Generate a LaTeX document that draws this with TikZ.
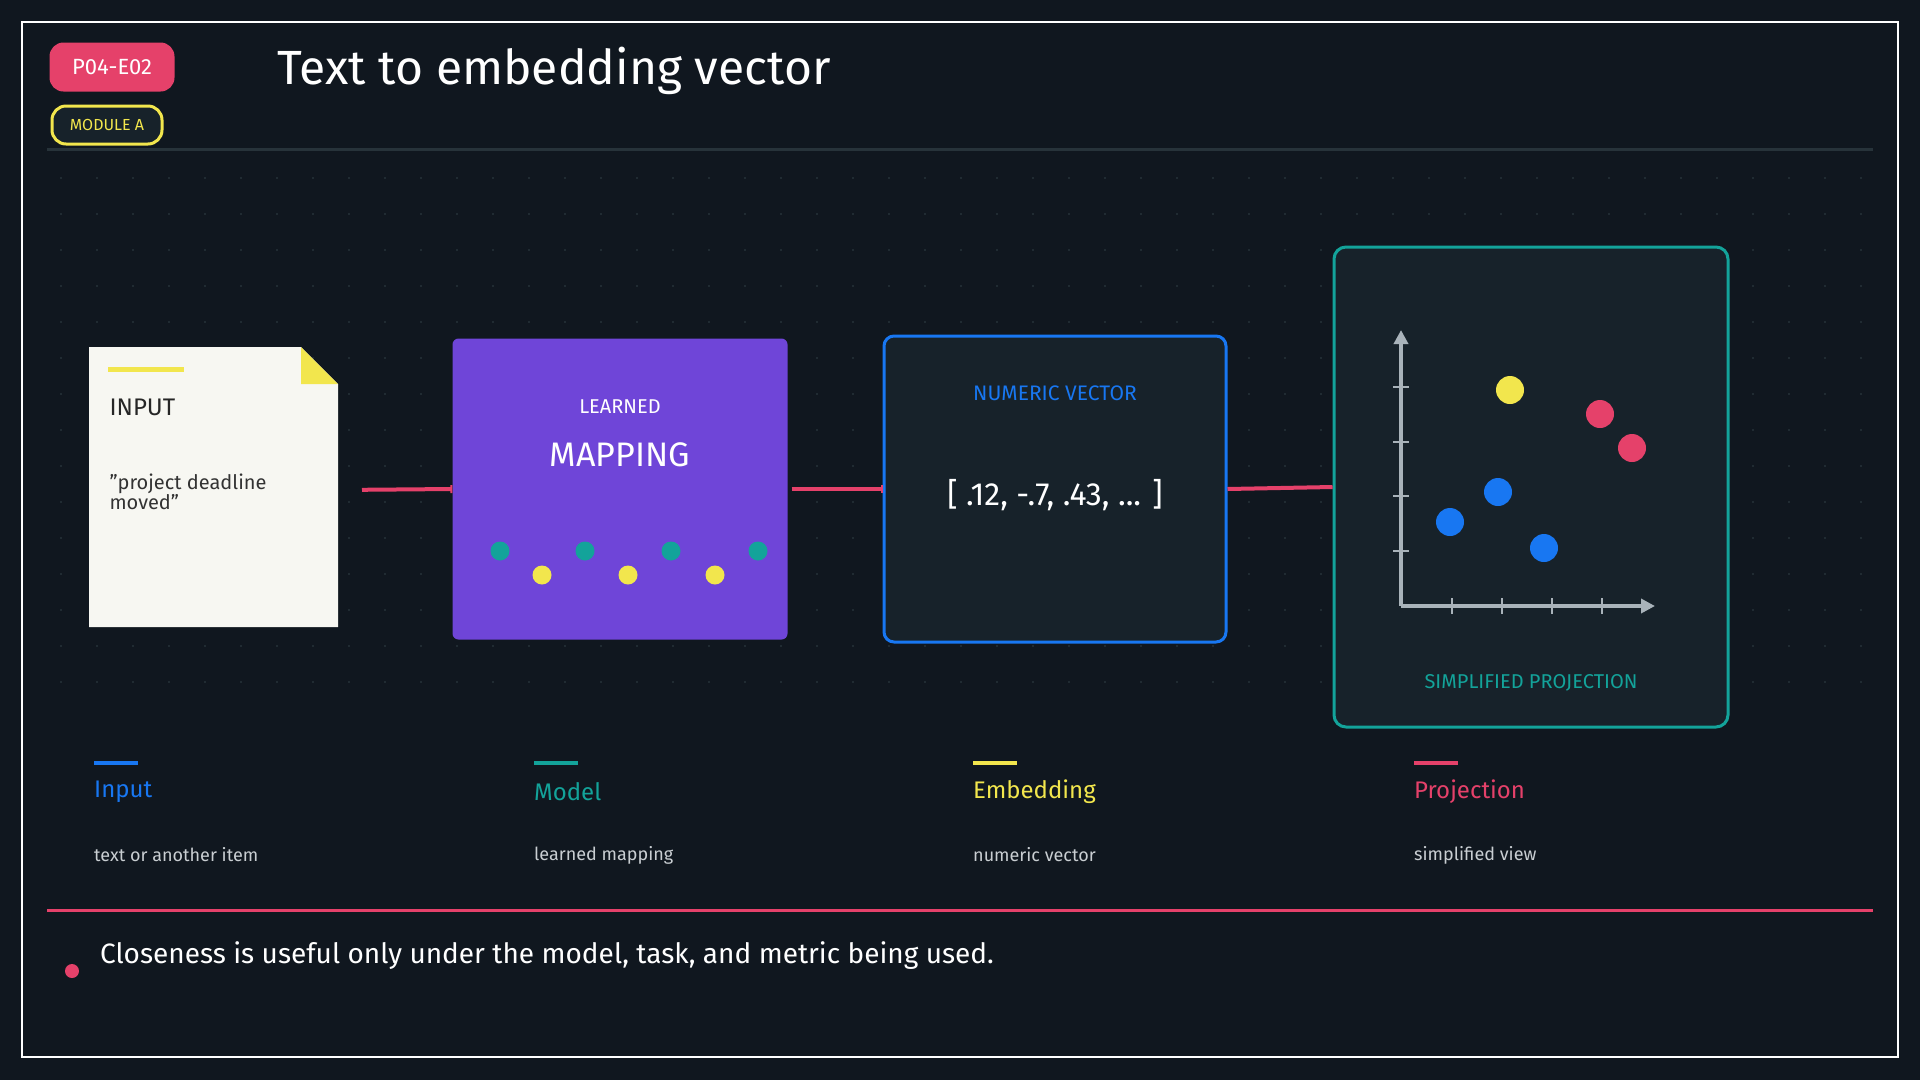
\documentclass[tikz,border=0pt]{standalone}
\usepackage{fontspec}
\setmainfont{Fira Sans}
\usetikzlibrary{arrows.meta,positioning}
\definecolor{bgdark}{HTML}{10171F}
\definecolor{panel}{HTML}{17222A}
\definecolor{pinkc}{HTML}{E5416A}
\definecolor{yellowc}{HTML}{F2E64D}
\definecolor{bluec}{HTML}{1877F2}
\definecolor{tealc}{HTML}{13A39A}
\definecolor{purplec}{HTML}{6F45D8}
\definecolor{paper}{HTML}{F7F7F2}
\definecolor{axisc}{HTML}{A9B3BA}
\definecolor{rulec}{HTML}{27333A}
\definecolor{dimtext}{HTML}{C9CED2}
\tikzset{
  fs/.style={font=\fontsize{#1}{#1}\selectfont},
  pt/.style={circle,fill=#1,draw=none,inner sep=0pt,minimum size=28pt},
  mdot/.style={circle,fill=#1,draw=none,inner sep=0pt,minimum size=19pt},
  flow/.style={pinkc,line width=4pt,-{Rectangle[length=2pt,width=8pt]}},
  legbar/.style={line width=4pt,#1},
  legtitle/.style={anchor=west,fs=24,#1},
  legtext/.style={anchor=west,fs=18,text=dimtext},
}
\begin{document}
\begin{tikzpicture}[x=1pt,y=-1pt]
\useasboundingbox (0,0) rectangle (1920,1080);
\fill[bgdark] (0,0) rectangle (1920,1080);
\draw[white,line width=2.5pt] (22,22) rectangle (1898,1057);
% dot grid
\foreach \i in {0,...,50} \foreach \j in {0,...,14}
  \fill[rulec] (61+36*\i,178+36*\j) circle (1.2pt);

% header
\node[fill=pinkc,rounded corners=14pt,minimum width=125pt,minimum height=49pt,text=white,fs=22] (badge) at (112,67) {P04-E02};
\node[draw=yellowc,line width=3pt,fill=panel,rounded corners=14pt,minimum width=110pt,minimum height=38pt,text=yellowc,fs=16] (module) at (107,125) {MODULE A};
\node[anchor=west,text=white,fs=48] (title) at (274,71) {Text to embedding vector};
\draw[rulec,line width=3pt] (47,149) -- (1873,149);

% input document
\fill[paper] (89,347) -- (301,347) -- (338,384) -- (338,627) -- (89,627) -- cycle;
\fill[yellowc] (301,347) -- (338,384) -- (301,384) -- cycle;
\coordinate (docin) at (338,490);
\draw[yellowc,line width=5pt] (108,369) -- (184,369);
\node[anchor=west,fs=24,text=black!85] (inlabel) at (106,407) {INPUT};
\node[anchor=north west,align=left,fs=20,text=black!80] (intext) at (106,470) {"project deadline\\moved"};

% mapping
\node[fill=purplec,rounded corners=6pt,minimum width=335pt,minimum height=301pt] (map) at (620,489) {};
\node[text=white,fs=20] (maplabel) at (620,407) {LEARNED};
\node[text=white,fs=34] (mapbig) at (620,455) {MAPPING};
\foreach \x in {500,585,671,758} \node[mdot=tealc] at (\x,551) {};
\foreach \x in {542,628,715} \node[mdot=yellowc] at (\x,575) {};

% vector
\node[draw=bluec,line width=3pt,fill=panel,rounded corners=10pt,minimum width=342pt,minimum height=306pt] (vec) at (1055,489) {};
\node[text=bluec,fs=21] (veclabel) at (1055,393) {NUMERIC VECTOR};
\node[text=white,fs=32] (vecval) at (1055,495) {[ .12, -.7, .43, ... ]};

% projection
\node[draw=tealc,line width=3pt,fill=panel,rounded corners=12pt,minimum width=394pt,minimum height=480pt] (proj) at (1531,487) {};
\coordinate (origin) at (1401,606);
\coordinate (ytop) at (1401,330);
\coordinate (xend) at (1655,606);
\draw[axisc,line width=3.5pt,-{Triangle[length=14pt,width=14pt]}] (origin) -- (ytop);
\draw[axisc,line width=3.5pt,-{Triangle[length=14pt,width=14pt]}] (origin) -- (xend);
\foreach \y in {387,442,496,551} \draw[axisc,line width=2.5pt] (1393,\y) -- (1409,\y);
\foreach \x in {1452,1502,1552,1602} \draw[axisc,line width=2.5pt] (\x,598) -- (\x,614);
\node[pt=yellowc] (p1) at (1510,390) {};
\node[pt=pinkc] (p2) at (1600,414) {};
\node[pt=pinkc] (p3) at (1632,448) {};
\node[pt=bluec] (p4) at (1498,492) {};
\node[pt=bluec] (p5) at (1450,522) {};
\node[pt=bluec] (p6) at (1544,548) {};
\node[text=tealc,fs=20] (projlabel) at (1531,683) {SIMPLIFIED PROJECTION};

% connectors
\draw[flow,shorten <=24pt] (docin) -- (map.west);
\draw[flow,shorten <=4pt] (map.east) -- (vec.west);
\draw[pinkc,line width=4pt] (vec.east) -- (proj.west);

% legend
\foreach \x/\c/\t/\d in {94/bluec/Input/text or another item,534/tealc/Model/learned mapping,973/yellowc/Embedding/numeric vector,1414/pinkc/Projection/simplified view}{
  \draw[legbar=\c] (\x,763) -- (\x+44,763);
  \node[legtitle=\c,inner sep=0pt] at (\x,792) {\t};
  \node[legtext,inner sep=0pt] at (\x,855) {\d};
}

% footer
\draw[pinkc,line width=3pt] (47,910) -- (1873,910);
\fill[pinkc] (72,971) circle (7pt);
\node[anchor=west,text=white,fs=28,inner sep=0pt] (note) at (100,956) {Closeness is useful only under the model, task, and metric being used.};
\end{tikzpicture}
\end{document}
